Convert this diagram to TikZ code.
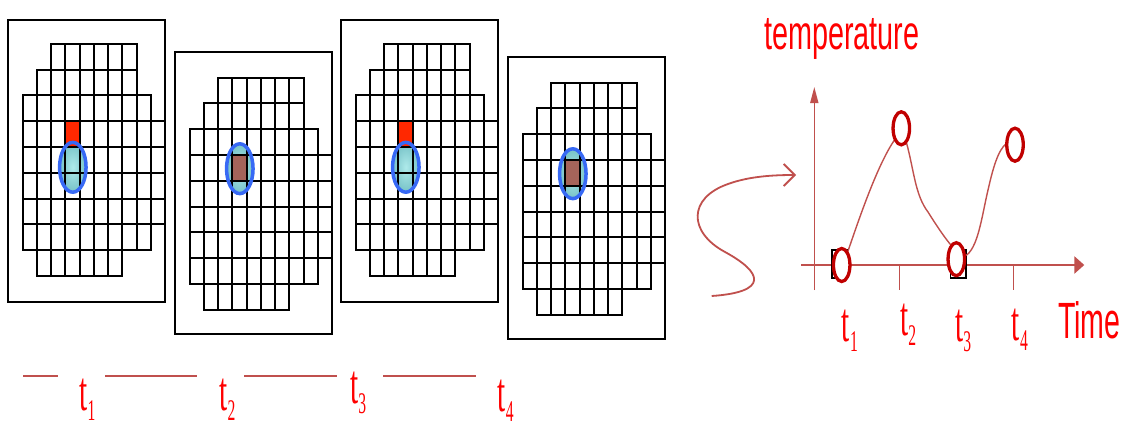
\documentclass[tikz,border=0pt]{standalone}
\usepackage{fontspec}
\usetikzlibrary{arrows.meta,shapes.geometric}
\newfontfamily\sansf{Liberation Sans}
\newfontfamily\serf{Liberation Serif}
\definecolor{axisred}{RGB}{192,80,77}
\definecolor{circred}{RGB}{192,0,0}
\definecolor{txtred}{RGB}{255,0,0}
\definecolor{cellred}{RGB}{255,40,0}
\definecolor{cellbrown}{RGB}{165,100,90}
\definecolor{ellblue}{RGB}{55,105,245}
\definecolor{ellin}{RGB}{141,226,226}
\definecolor{ellout}{RGB}{62,169,176}
\newcommand\tlab[1]{\scalebox{0.52}[1]{\serf\fontsize{56}{56}\selectfont t\raisebox{-10pt}{\fontsize{30}{30}\selectfont #1}}}
\tikzset{
  frame/.style={draw=black, line width=2pt, minimum width=157pt, minimum height=282pt, inner sep=0pt, outer sep=0pt},
  cell/.style={draw=black, line width=2pt},
  ellshade/.style={inner color=ellin, outer color=ellout, fill opacity=0.7},
  ellline/.style={draw=ellblue, line width=3.5pt},
  axisline/.style={draw=axisred},
  curve/.style={draw=axisred, line width=1.4pt},
  tshape/.style={ellipse, minimum width=16.5pt, minimum height=33pt, inner sep=0pt},
  tcircle/.style={tshape, draw=circred, line width=3.3pt, fill=white},
  tsquare/.style={draw=black, line width=1.3pt, minimum width=15.4pt, minimum height=28pt, inner sep=0pt},
  lbl/.style={anchor=base west, inner sep=0pt, text=txtred},
  seg/.style={draw=axisred, line width=2pt}
}
\newcommand\gpanel[6]{%
\begin{scope}[shift={(#1,#2)}]
  \node[frame, anchor=north west] (#6) at (0,0) {};
  \shade[ellshade] (64.8,#4) ellipse [x radius=13.25, y radius=24.9];
  \pgfmathsetmacro\sxa{round(14.7+3*14.25)}
  \pgfmathsetmacro\sxb{round(14.7+4*14.25)}
  \pgfmathsetmacro\sya{round(#3+3*25.8)}
  \pgfmathsetmacro\syb{round(#3+4*25.8)}
  \fill[#5] (\sxa,\sya) rectangle (\sxb,\syb);
  \foreach \ri/\ca/\cb in {0/2/7,1/1/7,2/0/8,3/0/9,4/0/9,5/0/9,6/0/9,7/0/8,8/1/6}{
    \foreach \ci in {\ca,...,\cb}{
      \pgfmathsetmacro\xa{round(14.7+\ci*14.25)}
      \pgfmathsetmacro\xb{round(14.7+(\ci+1)*14.25)}
      \pgfmathsetmacro\ya{round(#3+\ri*25.8)}
      \pgfmathsetmacro\yb{round(#3+(\ri+1)*25.8)}
      \draw[cell] (\xa,\ya) rectangle (\xb,\yb);
    }
  }
  \draw[ellline] (64.8,#4) ellipse [x radius=13.25, y radius=24.9];
\end{scope}}
\begin{document}
\begin{tikzpicture}[x=1pt,y=-1pt]
\useasboundingbox (0,0) rectangle (1123,420);
\fill[white] (0,0) rectangle (1123,420);

% grid panels
\gpanel{8}{20}{23.7}{147.3}{cellred}{p1}
\gpanel{175}{52}{25.5}{116.7}{cellbrown}{p2}
\gpanel{341}{20}{23.7}{147.3}{cellred}{p3}
\gpanel{508}{57}{25.5}{116.7}{cellbrown}{p4}

% time line at bottom
\coordinate (b1a) at (23.3,376); \coordinate (b1b) at (57.7,376);
\coordinate (b2a) at (105,376);  \coordinate (b2b) at (197.3,376);
\coordinate (b3a) at (244.3,376); \coordinate (b3b) at (336.7,376);
\coordinate (b4a) at (383.3,376); \coordinate (b4b) at (476,376);
\draw[seg] (b1a) -- (b1b);
\draw[seg] (b2a) -- (b2b);
\draw[seg] (b3a) -- (b3b);
\draw[seg] (b4a) -- (b4b);
\node[lbl] (bt1) at (79.3,410) {\tlab{1}};
\node[lbl] (bt2) at (219.3,410) {\tlab{2}};
\node[lbl] (bt3) at (350,403.3) {\tlab{3}};
\node[lbl] (bt4) at (497.7,411.7) {\tlab{4}};

% S-shaped arrow
\coordinate (sa) at (711.7,296);
\coordinate (sb) at (796,175);
\draw[curve, line width=1.8pt, -{Straight Barb[length=11pt,width=22pt]}] (sa) .. controls (770,292) and (762,272) .. (725,252) .. controls (688,232) and (688,198) .. (728,184) .. controls (750,176) and (775,175) .. (sb);

% axes
\coordinate (yb) at (814.3,290); \coordinate (yt) at (814.3,87);
\coordinate (xl) at (801,265);   \coordinate (xr) at (1084.3,265);
\draw[axisline, line width=1.6pt, -{Triangle[width=8pt,length=16pt]}] (yb) -- (yt);
\draw[axisline, line width=2.6pt, -{Triangle[width=17pt,length=10pt]}] (xl) -- (xr);
\coordinate (k2) at (899.3,265); \coordinate (k4) at (1013.3,265);
\draw[axisline, line width=1.5pt] (k2) -- ++(0,25);
\draw[axisline, line width=1.5pt] (k4) -- ++(0,25);

% marker squares
\node[tsquare] (s1) at (839.7,264) {};
\node[tsquare] (s3) at (958.3,264) {};

% anchor holders for the data points
\path (841.7,265) node[tshape] (c1) {};
\path (901.3,128.3) node[tshape] (c2) {};
\path (956.3,259.2) node[tshape] (c3) {};
\path (1015,144.7) node[tshape] (c4) {};

% temperature curve
\draw[curve] (c1.65) .. controls (858,222) and (877,165) .. (c2.240);
\draw[curve] (c2.290) .. controls (914,170) and (915,195) .. (928,212) .. controls (938,228) and (945,238) .. (c3.110);
\draw[curve] (c3.20) .. controls (978,250) and (982,215) .. (988,190) .. controls (993,168) and (998,150) .. (c4.170);

% data point circles
\node[tcircle] at (c1) {};
\node[tcircle] at (c2) {};
\node[tcircle] at (c3) {};
\node[tcircle] at (c4) {};

% labels
\node[lbl] (temp) at (764,50) {\scalebox{0.6}[1]{\sansf\fontsize{48}{48}\selectfont temperature}};
\node[lbl] (time) at (1058,338.3) {\scalebox{0.56}[1]{\sansf\fontsize{51}{51}\selectfont Time}};
\node[lbl] (ct1) at (841.7,341.7) {\tlab{1}};
\node[lbl] (ct2) at (900,335) {\tlab{2}};
\node[lbl] (ct3) at (955,341.7) {\tlab{3}};
\node[lbl] (ct4) at (1011.7,340) {\tlab{4}};
\end{tikzpicture}
\end{document}
